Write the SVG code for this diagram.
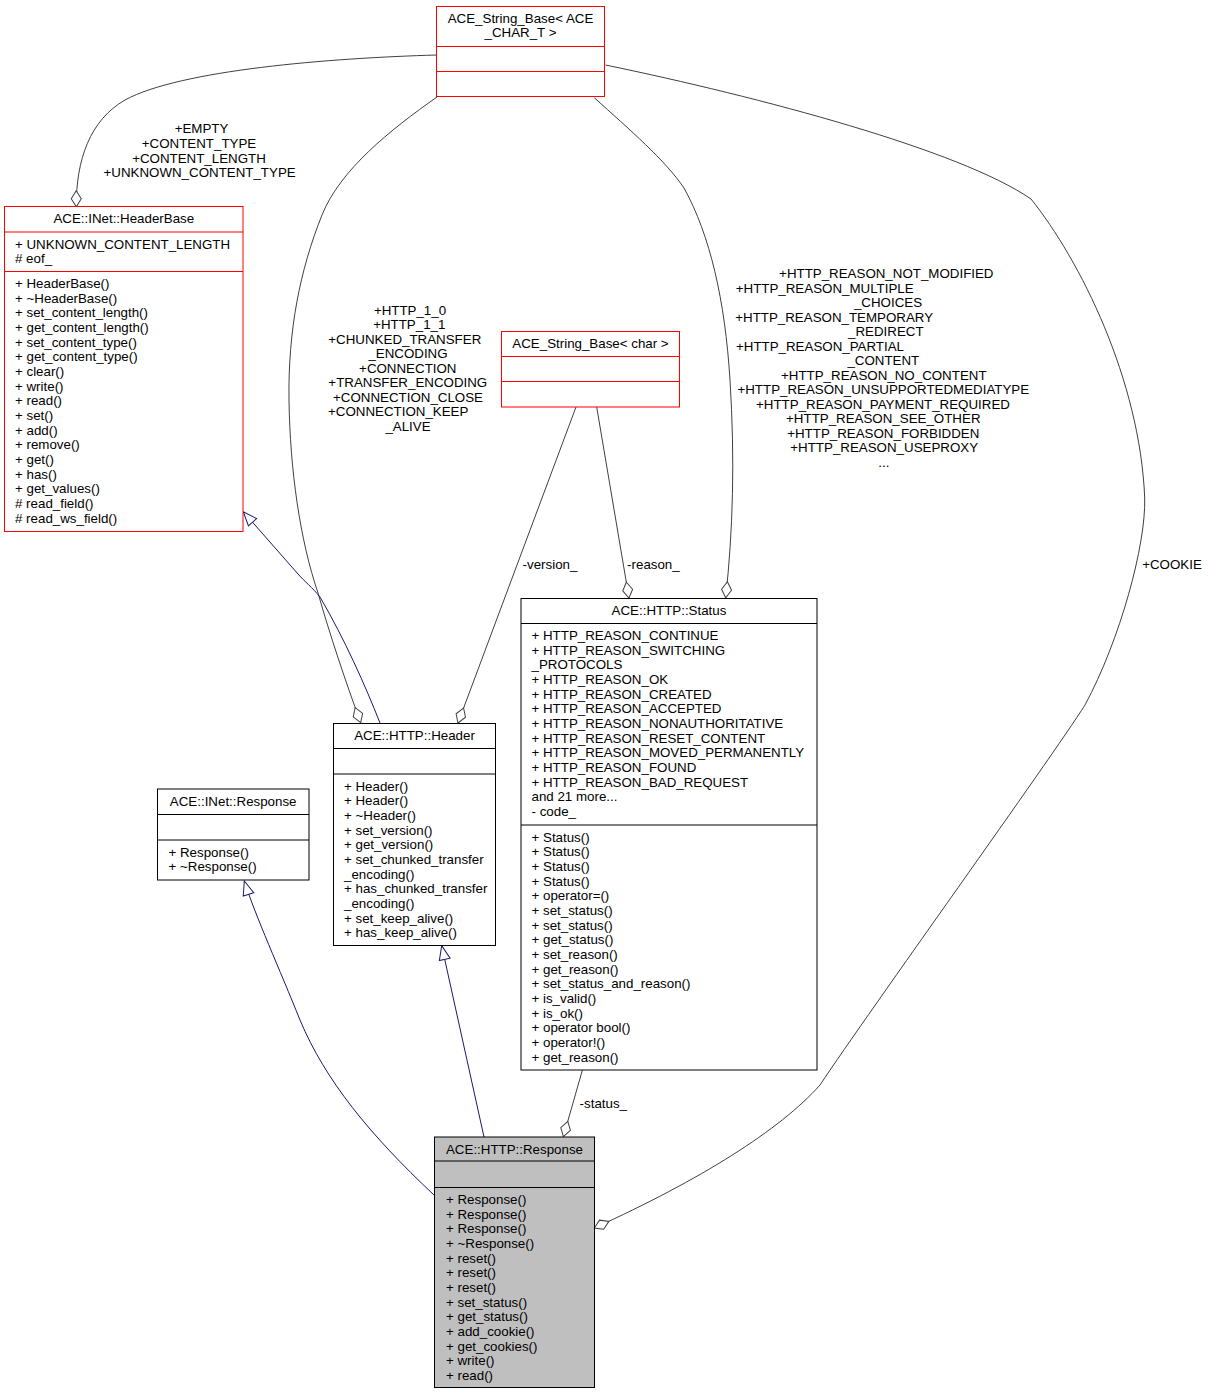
<svg xmlns="http://www.w3.org/2000/svg" width="1211" height="1395" viewBox="0 0 1211 1395">
<style>
text{font-family:"Liberation Sans",Arial,Helvetica,sans-serif;font-size:13.33px;fill:#000}
.c{text-anchor:middle}
.box{fill:#fff;stroke:#000;stroke-width:1}
.red{stroke:#ff0000}
.gray{fill:#bfbfbf}
.dv{stroke:#000;stroke-width:1}
.dvr{stroke:#ff0000;stroke-width:1}
.agg{fill:none;stroke:#404040;stroke-width:1;marker-end:url(#od)}
.inh{fill:none;stroke:#191970;stroke-width:1;marker-end:url(#ot)}
</style>
<defs>
<marker id="od" markerUnits="userSpaceOnUse" markerWidth="18" markerHeight="12" refX="16" refY="6" orient="auto" overflow="visible"><path d="M0,6 L8,1 L16,6 L8,11 Z" fill="#fff" stroke="#404040" stroke-width="1"/></marker>
<marker id="ot" markerUnits="userSpaceOnUse" markerWidth="16" markerHeight="13" refX="14" refY="6" orient="auto" overflow="visible"><path d="M0,0.5 L14,6 L0,11.5 Z" fill="#fff" stroke="#191970" stroke-width="1"/></marker>
</defs>
<rect x="0" y="0" width="1211" height="1395" fill="#fff"/>

<g id="connectors">
<path class="agg" d="M436.8,55 C330,58 180,70 125,100 C90,120 76,160 76.3,206.7"/>
<path class="agg" d="M437,97 C390,130 340,170 322,215 C300,270 288,330 289,400 C290,470 300,540 318,593 C330,635 345,680 360.7,722.7"/>
<path class="agg" d="M594.3,97.7 C630,130 665,160 684,188 C710,235 725,300 730,380 C735,460 733,530 725.7,597.7"/>
<path class="agg" d="M605.5,65 C760,97 960,150 1031,199 C1080,260 1140,380 1144.7,498 C1146,545 1120,640 1085,705 C1050,760 870,1010 820,1085 C780,1130 700,1180 594.3,1228"/>
<path class="agg" d="M576,407 L458,723"/>
<path class="agg" d="M596.7,407 L629,598"/>
<path class="agg" d="M582.4,1070 L563.4,1136.7"/>
<path class="inh" d="M380,723 C365,685 345,640 320,597 C312,587 305,582 298,574 L243.3,511.7"/>
<path class="inh" d="M434,1195 C370,1135 325,1080 300,1020 C280,970 255,915 244.3,881"/>
<path class="inh" d="M484,1137 L441.7,945.7"/>
<text class="c" x="201.5" y="133">+EMPTY</text>
<text class="c" x="199" y="148">+CONTENT_TYPE</text>
<text class="c" x="199" y="162.5">+CONTENT_LENGTH</text>
<text class="c" x="199.6" y="177">+UNKNOWN_CONTENT_TYPE</text>
<text class="c" x="410" y="314.8">+HTTP_1_0</text>
<text class="c" x="409.3" y="329.3">+HTTP_1_1</text>
<text class="c" x="404.8" y="343.8">+CHUNKED_TRANSFER</text>
<text class="c" x="408" y="358.2">_ENCODING</text>
<text class="c" x="407.8" y="372.7">+CONNECTION</text>
<text class="c" x="407.8" y="387.2">+TRANSFER_ENCODING</text>
<text class="c" x="408" y="401.6">+CONNECTION_CLOSE</text>
<text class="c" x="398.2" y="416.1">+CONNECTION_KEEP</text>
<text class="c" x="408" y="430.5">_ALIVE</text>
<text class="c" x="886.3" y="278.1">+HTTP_REASON_NOT_MODIFIED</text>
<text class="c" x="824.7" y="292.6">+HTTP_REASON_MULTIPLE</text>
<text class="c" x="888" y="307.1">_CHOICES</text>
<text class="c" x="834.2" y="321.6">+HTTP_REASON_TEMPORARY</text>
<text class="c" x="885.8" y="336.1">_REDIRECT</text>
<text class="c" x="820" y="350.6">+HTTP_REASON_PARTIAL</text>
<text class="c" x="883.3" y="365.1">_CONTENT</text>
<text class="c" x="883.8" y="379.6">+HTTP_REASON_NO_CONTENT</text>
<text class="c" x="883.3" y="394.1">+HTTP_REASON_UNSUPPORTEDMEDIATYPE</text>
<text class="c" x="883" y="408.6">+HTTP_REASON_PAYMENT_REQUIRED</text>
<text class="c" x="883.3" y="423.1">+HTTP_REASON_SEE_OTHER</text>
<text class="c" x="883.3" y="437.6">+HTTP_REASON_FORBIDDEN</text>
<text class="c" x="884.2" y="452.1">+HTTP_REASON_USEPROXY</text>
<text class="c" x="883.8" y="466.6">...</text>
<text class="c" x="550" y="569">-version_</text>
<text class="c" x="653.4" y="569">-reason_</text>
<text class="c" x="1172" y="568.8">+COOKIE</text>
<text class="c" x="603.3" y="1108">-status_</text>
</g>

<g id="node-string-base-ace-char-t">
<rect class="box red" x="436.5" y="6.5" width="168" height="90"/>
<line class="dvr" x1="436.5" y1="46.5" x2="604.5" y2="46.5"/>
<line class="dvr" x1="436.5" y1="71.5" x2="604.5" y2="71.5"/>
<text class="c" x="520.5" y="22.6">ACE_String_Base&lt; ACE</text>
<text class="c" x="520.5" y="37.3">_CHAR_T &gt;</text>
</g>

<g id="node-headerbase">
<rect class="box red" x="4.5" y="206.5" width="238.5" height="325"/>
<line class="dvr" x1="4.5" y1="232" x2="243" y2="232"/>
<line class="dvr" x1="4.5" y1="271.5" x2="243" y2="271.5"/>
<text class="c" x="123.8" y="223">ACE::INet::HeaderBase</text>
<text x="15" y="248.5">+ UNKNOWN_CONTENT_LENGTH<tspan x="15" dy="14.67"># eof_</tspan></text>
<text x="15" y="288">+ HeaderBase()<tspan x="15" dy="14.67">+ ~HeaderBase()</tspan><tspan x="15" dy="14.67">+ set_content_length()</tspan><tspan x="15" dy="14.67">+ get_content_length()</tspan><tspan x="15" dy="14.67">+ set_content_type()</tspan><tspan x="15" dy="14.67">+ get_content_type()</tspan><tspan x="15" dy="14.67">+ clear()</tspan><tspan x="15" dy="14.67">+ write()</tspan><tspan x="15" dy="14.67">+ read()</tspan><tspan x="15" dy="14.67">+ set()</tspan><tspan x="15" dy="14.67">+ add()</tspan><tspan x="15" dy="14.67">+ remove()</tspan><tspan x="15" dy="14.67">+ get()</tspan><tspan x="15" dy="14.67">+ has()</tspan><tspan x="15" dy="14.67">+ get_values()</tspan><tspan x="15" dy="14.67"># read_field()</tspan><tspan x="15" dy="14.67"># read_ws_field()</tspan></text>
</g>

<g id="node-string-base-char">
<rect class="box red" x="501.5" y="331.5" width="178" height="75.5"/>
<line class="dvr" x1="501.5" y1="356.5" x2="679.5" y2="356.5"/>
<line class="dvr" x1="501.5" y1="381.5" x2="679.5" y2="381.5"/>
<text class="c" x="590.5" y="347.8">ACE_String_Base&lt; char &gt;</text>
</g>

<g id="node-status">
<rect class="box" x="521" y="598.5" width="296" height="471.5"/>
<line class="dv" x1="521" y1="623.5" x2="817" y2="623.5"/>
<line class="dv" x1="521" y1="825" x2="817" y2="825"/>
<text class="c" x="669" y="615">ACE::HTTP::Status</text>
<text x="531.5" y="640">+ HTTP_REASON_CONTINUE<tspan x="531.5" dy="14.67">+ HTTP_REASON_SWITCHING</tspan><tspan x="531.5" dy="14.67">_PROTOCOLS</tspan><tspan x="531.5" dy="14.67">+ HTTP_REASON_OK</tspan><tspan x="531.5" dy="14.67">+ HTTP_REASON_CREATED</tspan><tspan x="531.5" dy="14.67">+ HTTP_REASON_ACCEPTED</tspan><tspan x="531.5" dy="14.67">+ HTTP_REASON_NONAUTHORITATIVE</tspan><tspan x="531.5" dy="14.67">+ HTTP_REASON_RESET_CONTENT</tspan><tspan x="531.5" dy="14.67">+ HTTP_REASON_MOVED_PERMANENTLY</tspan><tspan x="531.5" dy="14.67">+ HTTP_REASON_FOUND</tspan><tspan x="531.5" dy="14.67">+ HTTP_REASON_BAD_REQUEST</tspan><tspan x="531.5" dy="14.67">and 21 more...</tspan><tspan x="531.5" dy="14.67">- code_</tspan></text>
<text x="531.5" y="841.5">+ Status()<tspan x="531.5" dy="14.67">+ Status()</tspan><tspan x="531.5" dy="14.67">+ Status()</tspan><tspan x="531.5" dy="14.67">+ Status()</tspan><tspan x="531.5" dy="14.67">+ operator=()</tspan><tspan x="531.5" dy="14.67">+ set_status()</tspan><tspan x="531.5" dy="14.67">+ set_status()</tspan><tspan x="531.5" dy="14.67">+ get_status()</tspan><tspan x="531.5" dy="14.67">+ set_reason()</tspan><tspan x="531.5" dy="14.67">+ get_reason()</tspan><tspan x="531.5" dy="14.67">+ set_status_and_reason()</tspan><tspan x="531.5" dy="14.67">+ is_valid()</tspan><tspan x="531.5" dy="14.67">+ is_ok()</tspan><tspan x="531.5" dy="14.67">+ operator bool()</tspan><tspan x="531.5" dy="14.67">+ operator!()</tspan><tspan x="531.5" dy="14.67">+ get_reason()</tspan></text>
</g>

<g id="node-http-header">
<rect class="box" x="333.5" y="723.5" width="162" height="222"/>
<line class="dv" x1="333.5" y1="748.5" x2="495.5" y2="748.5"/>
<line class="dv" x1="333.5" y1="774" x2="495.5" y2="774"/>
<text class="c" x="414.5" y="740">ACE::HTTP::Header</text>
<text x="344" y="790.5">+ Header()<tspan x="344" dy="14.67">+ Header()</tspan><tspan x="344" dy="14.67">+ ~Header()</tspan><tspan x="344" dy="14.67">+ set_version()</tspan><tspan x="344" dy="14.67">+ get_version()</tspan><tspan x="344" dy="14.67">+ set_chunked_transfer</tspan><tspan x="344" dy="14.67">_encoding()</tspan><tspan x="344" dy="14.67">+ has_chunked_transfer</tspan><tspan x="344" dy="14.67">_encoding()</tspan><tspan x="344" dy="14.67">+ set_keep_alive()</tspan><tspan x="344" dy="14.67">+ has_keep_alive()</tspan></text>
</g>

<g id="node-inet-response">
<rect class="box" x="157.5" y="789" width="151.5" height="91"/>
<line class="dv" x1="157.5" y1="814.5" x2="309" y2="814.5"/>
<line class="dv" x1="157.5" y1="840" x2="309" y2="840"/>
<text class="c" x="233.2" y="805.5">ACE::INet::Response</text>
<text x="168.5" y="856.5">+ Response()<tspan x="168.5" dy="14.67">+ ~Response()</tspan></text>
</g>

<g id="node-http-response">
<rect class="box gray" x="434.5" y="1137" width="160" height="250.5"/>
<line class="dv" x1="434.5" y1="1161" x2="594.5" y2="1161"/>
<line class="dv" x1="434.5" y1="1187.5" x2="594.5" y2="1187.5"/>
<text class="c" x="514.5" y="1153.5">ACE::HTTP::Response</text>
<text x="446" y="1204">+ Response()<tspan x="446" dy="14.67">+ Response()</tspan><tspan x="446" dy="14.67">+ Response()</tspan><tspan x="446" dy="14.67">+ ~Response()</tspan><tspan x="446" dy="14.67">+ reset()</tspan><tspan x="446" dy="14.67">+ reset()</tspan><tspan x="446" dy="14.67">+ reset()</tspan><tspan x="446" dy="14.67">+ set_status()</tspan><tspan x="446" dy="14.67">+ get_status()</tspan><tspan x="446" dy="14.67">+ add_cookie()</tspan><tspan x="446" dy="14.67">+ get_cookies()</tspan><tspan x="446" dy="14.67">+ write()</tspan><tspan x="446" dy="14.67">+ read()</tspan></text>
</g>
</svg>
